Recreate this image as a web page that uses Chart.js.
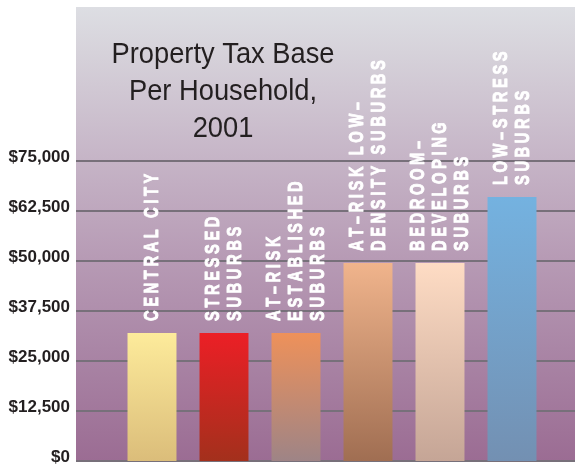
<!DOCTYPE html>
<html>
<head>
<meta charset="utf-8">
<script src="https://cdn.jsdelivr.net/npm/chart.js@4.4.1/dist/chart.umd.min.js"></script>
<style>
html, body { margin: 0; padding: 0; background: #fff; }
#wrap { width: 575px; height: 466px; }
</style>
</head>
<body>
<div id="wrap"><canvas id="grafico" width="575" height="466"></canvas></div>
<script>
// DATA
let categories = [
  ["CENTRAL CITY"],
  ["STRESSED", "SUBURBS"],
  ["AT–RISK", "ESTABLISHED", "SUBURBS"],
  ["AT–RISK LOW–", "DENSITY SUBURBS"],
  ["BEDROOM–", "DEVELOPING", "SUBURBS"],
  ["LOW–STRESS", "SUBURBS"]
];
let taxBase = [32000, 32000, 32000, 49500, 49500, 66000];
let yTicks = [0, 12500, 25000, 37500, 50000, 62500, 75000];
let yMax = 113500;
let titleLines = ["Property Tax Base", "Per Household,", "2001"];

// colours, top of bar -> bottom of bar
let topColors = ["#fdeb9b", "#ec1f26", "#ee915a", "#f0b48c", "#fedcc4", "#74b2e0"];
let bottomColors = ["#dbbd7a", "#a3301c", "#9e8486", "#a06e52", "#c5a596", "#7390b2"];

let plotLeft = 76;
let plotBottom = 462;

function barGradient(ctx) {
  let chart = ctx.chart;
  let i = ctx.dataIndex;
  if (!chart.chartArea || !chart.scales.y) return topColors[i];
  let y = chart.scales.y;
  let top = y.getPixelForValue(ctx.raw);
  let bottom = y.getPixelForValue(0);
  let g = chart.ctx.createLinearGradient(0, top, 0, bottom);
  g.addColorStop(0, topColors[i]);
  g.addColorStop(1, bottomColors[i]);
  return g;
}

// draw text letter by letter, squeezed and spaced out
function drawSpaced(c, txt, sx, gap) {
  let x = 0;
  for (const ch of txt) {
    c.save();
    c.translate(x, 0);
    c.scale(sx, 1);
    c.fillText(ch, 0, 0);
    c.strokeText(ch, 0, 0);
    c.restore();
    x += c.measureText(ch).width * sx + gap;
  }
}

// FONDO + GRID
const background = {
  id: "background",
  beforeDraw(chart) {
    let c = chart.ctx;
    let a = chart.chartArea;
    let y = chart.scales.y;
    c.save();
    c.fillStyle = "#fff";
    c.fillRect(0, 0, chart.width, chart.height);
    let g = c.createLinearGradient(0, a.top, 0, plotBottom);
    g.addColorStop(0, "#dddee3");
    g.addColorStop(0.1, "#d6d2da");
    g.addColorStop(0.33, "#c6b5c7");
    g.addColorStop(0.55, "#b79bb5");
    g.addColorStop(0.75, "#aa86a6");
    g.addColorStop(1, "#9b6c93");
    c.fillStyle = g;
    c.fillRect(plotLeft, a.top, chart.width - plotLeft, plotBottom - a.top);

    c.strokeStyle = "#77707a";
    c.lineWidth = 2;
    y.ticks.forEach(t => {
      let py = Math.round(y.getPixelForValue(t.value));
      c.beginPath();
      c.moveTo(plotLeft, py);
      c.lineTo(chart.width, py);
      c.stroke();
    });
    c.restore();
  }
};

// TITULO + ETIQUETAS EN LAS BARRAS
const labels = {
  id: "labels",
  afterDatasetsDraw(chart) {
    let c = chart.ctx;
    c.save();

    c.fillStyle = "#231f20";
    c.font = '29px "Liberation Sans", Arial, sans-serif';
    c.textBaseline = "alphabetic";
    let sx = 223 / c.measureText(titleLines[0]).width;
    titleLines.forEach((txt, j) => {
      let w = c.measureText(txt).width * sx;
      c.save();
      c.translate(223 - w / 2, 63 + j * 37);
      c.scale(sx, 1);
      c.fillText(txt, 0, 0);
      c.restore();
    });

    c.fillStyle = "#fff";
    c.strokeStyle = "#fff";
    c.lineWidth = 0.9;
    c.lineJoin = "round";
    c.font = 'bold 21px "Liberation Sans", Arial, sans-serif';
    let meta = chart.getDatasetMeta(0);
    meta.data.forEach((bar, i) => {
      let lines = categories[i];
      let n = lines.length;
      lines.forEach((txt, j) => {
        let colX = bar.x - 1.5 + (j - (n - 1) / 2) * 22;
        c.save();
        c.translate(colX + 7.5, bar.y - 12);
        c.rotate(-Math.PI / 2);
        drawSpaced(c, txt, 0.7, 3.6);
        c.restore();
      });
    });
    c.restore();
  }
};

let chart = new Chart(document.getElementById("grafico").getContext("2d"), {
  type: "bar",
  data: {
    labels: categories.map(l => l.join(" ")),
    datasets: [{
      data: taxBase,
      backgroundColor: barGradient,
      borderWidth: 0,
      barPercentage: 0.68,
      categoryPercentage: 1
    }]
  },
  options: {
    responsive: false,
    animation: false,
    layout: { padding: { top: 7, right: 27, bottom: 5, left: 0 } },
    plugins: { legend: { display: false }, tooltip: { enabled: false } },
    scales: {
      x: { display: false },
      y: {
        min: 0,
        max: yMax,
        afterFit(scale) {
          scale.width = 116;
          scale.paddingTop = 0;
          scale.paddingBottom = 0;
        },
        afterBuildTicks(scale) { scale.ticks = yTicks.map(v => ({ value: v })); },
        grid: { display: false, drawTicks: false },
        border: { display: false },
        ticks: {
          padding: 46,
          labelOffset: -4,
          color: "#231f20",
          font: { family: '"Liberation Sans", Arial, sans-serif', weight: "bold", size: 17 },
          callback: v => "$" + v.toLocaleString("en-US")
        }
      }
    }
  },
  plugins: [background, labels]
});
</script>
</body>
</html>
